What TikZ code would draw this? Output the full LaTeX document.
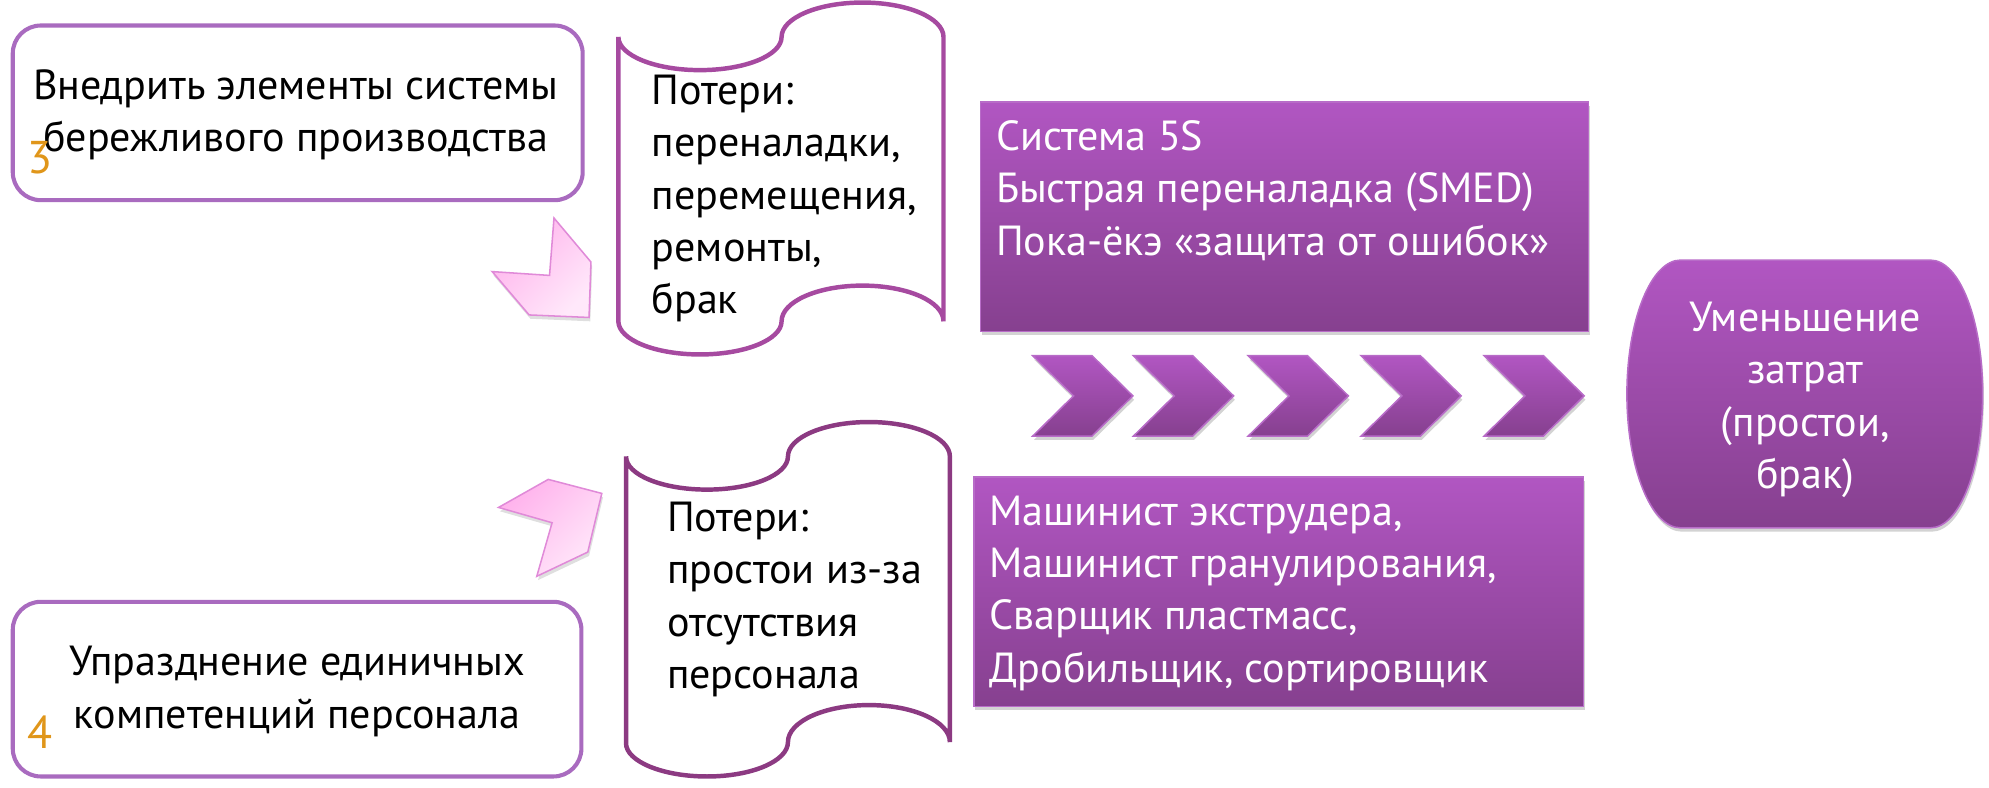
\documentclass[tikz,border=0pt]{standalone}
\usepackage{fontspec}
\setmainfont{PT Sans}
\usetikzlibrary{shadows}
\definecolor{boxline}{HTML}{A96BBF}
\definecolor{scrollA}{HTML}{A64AA0}
\definecolor{scrollB}{HTML}{8C3A82}
\definecolor{numc}{HTML}{E0961A}
\definecolor{purtop}{HTML}{B156C2}
\definecolor{purbot}{HTML}{86408F}
\definecolor{purline}{HTML}{B86CC8}
\definecolor{pinkA}{HTML}{FFB2EC}
\definecolor{pinkB}{HTML}{FFE8FA}
\definecolor{pinkline}{HTML}{E08AD8}
\tikzset{
  txt/.style={font=\fontsize{33}{41}\selectfont, inner sep=0pt, align=left},
  numtxt/.style={font=\fontsize{36}{41}\selectfont, inner sep=0pt, text=numc, anchor=base west},
  lightbox/.style={draw=boxline, line width=3.2pt, rounded corners=22pt, fill=white},
  scrollpath/.style={line width=3.5pt, fill=white},
  purfill/.style={top color=purtop, bottom color=purbot, draw=purline, line width=1.2pt,
     drop shadow={shadow xshift=1pt, shadow yshift=-3pt, opacity=0.35}},
  pinkfill/.style={left color=pinkA, right color=pinkB, shading angle=45, draw=pinkline, line width=1.2pt,
     drop shadow={shadow xshift=1pt, shadow yshift=-3pt, opacity=0.25}},
}
\begin{document}
\begin{tikzpicture}[x=1pt,y=-1pt]
\useasboundingbox (0,0) rectangle (1560,618);

% left boxes
\draw[lightbox] (10,20) rectangle (457,157);
\node[txt, align=center, anchor=base] (t1) at (232,119) {Внедрить элементы системы\\бережливого производства};
\node[numtxt] (n3) at (21,136) {3};

\draw[lightbox] (10,472) rectangle (456,609);
\node[txt, align=center, anchor=base] (t2) at (233,571) {Упразднение единичных\\компетенций персонала};
\node[numtxt] (n4) at (21,587) {4};

% pink arrows
\draw[pinkfill] (434.5,171) -- (463.5,205.5) -- (462,249) -- (415,247) -- (386,213) -- (431,216) -- cycle;
\draw[pinkfill] (430,376) -- (472,387) -- (461,433) -- (421,452) -- (433,410) -- (391,398) -- cycle;

% scroll 1
\draw[scrollpath, draw=scrollA] (485,253) -- (485,29)
  .. controls (485,43.4) and (513.7,55) .. (549,55)
  .. controls (584.3,55) and (613,43.4) .. (613,29)
  .. controls (613,14.1) and (641.4,2) .. (676.5,2)
  .. controls (711.6,2) and (740,14.1) .. (740,29)
  -- (740,252)
  .. controls (740,236.5) and (711.6,224) .. (676.5,224)
  .. controls (641.4,224) and (613,236.5) .. (613,252)
  .. controls (613,266.4) and (584.3,278) .. (549,278)
  .. controls (513.7,278) and (485,266.4) .. (485,252) -- cycle;
\node[txt, anchor=base west] (s1) at (511,246) {Потери:\\переналадки,\\перемещения,\\ремонты,\\брак};

% scroll 2
\draw[scrollpath, draw=scrollB] (491,583) -- (491,358)
  .. controls (491,372.4) and (519.4,384) .. (554.5,384)
  .. controls (589.6,384) and (618,372.4) .. (618,358)
  .. controls (618,343.1) and (646.4,331) .. (681.5,331)
  .. controls (716.6,331) and (745,343.1) .. (745,358)
  -- (745,582)
  .. controls (745,566) and (716.6,553) .. (681.5,553)
  .. controls (646.4,553) and (618,566) .. (618,582)
  .. controls (618,597) and (589.6,609) .. (554.5,609)
  .. controls (519.4,609) and (491,597) .. (491,583) -- cycle;
\node[txt, anchor=base west] (s2) at (523,540) {Потери:\\простои из-за\\отсутствия\\персонала};

% purple boxes
\draw[purfill] (769,80) rectangle (1246,260);
\node[txt, anchor=base west, text=white] (m1) at (781,200) {Система 5S\\Быстрая переналадка (SMED)\\Пока-ёкэ «защита от ошибок»};

\draw[purfill] (764,374) rectangle (1242,554);
\node[txt, anchor=base west, text=white] (m2) at (776,535) {Машинист экструдера,\\Машинист гранулирования,\\Сварщик пластмасс,\\Дробильщик, сортировщик};

% chevrons
\foreach \b in {810,889,979,1067.5,1164}
  \draw[purfill] (\b,279) -- ++(46.5,0) -- ++(32,31.5) -- ++(-32,31.5) -- ++(-46.5,0) -- ++(32,-31.5) -- cycle;

% result shape
\draw[purfill] (1318,204) -- (1514,204)
  .. controls (1537,204) and (1555,251) .. (1555,309)
  .. controls (1555,367) and (1537,414) .. (1514,414)
  -- (1318,414)
  .. controls (1295,414) and (1276,367) .. (1276,309)
  .. controls (1276,251) and (1295,204) .. (1318,204) -- cycle;
\node[txt, align=center, anchor=base, text=white] (r) at (1416,383) {Уменьшение\\затрат\\(простои,\\брак)};
\end{tikzpicture}
\end{document}
